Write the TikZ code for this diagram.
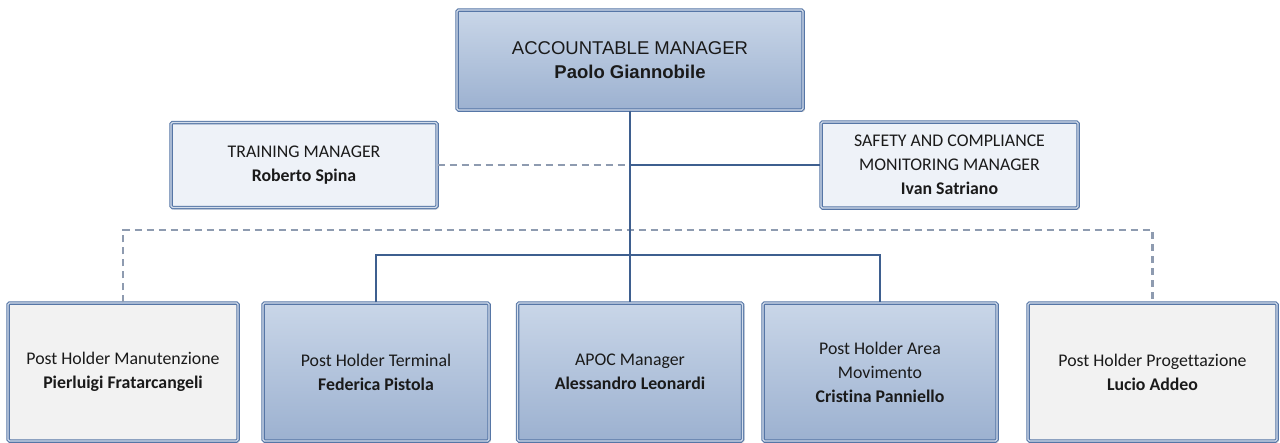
\documentclass[tikz,border=0pt]{standalone}
\usepackage{fontspec}
\setmainfont{Carlito}[Ligatures=NoCommon]
\newfontfamily\arialf{Liberation Sans}
\usetikzlibrary{shadows}
\definecolor{bordc}{HTML}{5676A6}
\definecolor{gapc}{HTML}{D4DEEC}
\definecolor{linec}{HTML}{3E5F8F}
\definecolor{dashc}{HTML}{8E9BB0}
\definecolor{blueT}{HTML}{C9D6E8}
\definecolor{blueB}{HTML}{9CB1D0}
\definecolor{lightbl}{HTML}{EEF2F8}
\definecolor{lightgr}{HTML}{F2F2F2}
\definecolor{txtc}{HTML}{1A1A1A}
\tikzset{
  orgbox/.style={draw=bordc, line width=1.1pt, double=gapc, double distance=1.3pt,
    rounded corners=1.5pt, align=center, inner sep=2pt, text=txtc,
    drop shadow={shadow xshift=1.8pt, shadow yshift=-1.8pt, opacity=0.25, fill=black!60},
    font=\fontsize{17.8}{24}\selectfont},
  bluebox/.style={orgbox, top color=blueT, bottom color=blueB},
  palebox/.style={orgbox, fill=lightbl},
  greybox/.style={orgbox, fill=lightgr},
  solidline/.style={draw=linec, line width=1.5pt},
  dashline/.style={draw=dashc, line width=2.3pt, dash pattern=on 7pt off 5pt}
}
\begin{document}
\begin{tikzpicture}[x=1pt,y=-1pt]
\useasboundingbox (0,0) rectangle (1280,442);
\node[bluebox, minimum width=346pt, minimum height=100pt,
      font=\arialf\fontsize{18.5}{24}\selectfont] (am) at (630,60)
  {ACCOUNTABLE MANAGER\\\textbf{Paolo Giannobile}};
\node[palebox, minimum width=266pt, minimum height=85pt] (tm) at (304,165)
  {TRAINING MANAGER\\\textbf{Roberto Spina}};
\node[palebox, minimum width=257pt, minimum height=86pt] (sm) at (949.5,165)
  {SAFETY AND COMPLIANCE\\MONITORING MANAGER\\\textbf{Ivan Satriano}};
\node[greybox, minimum width=230pt, minimum height=138pt] (b1) at (123,372)
  {Post Holder Manutenzione\\\textbf{Pierluigi Fratarcangeli}};
\node[bluebox, minimum width=226pt, minimum height=138pt] (b2) at (376,372)
  {Post Holder Terminal\\\textbf{Federica Pistola}};
\node[bluebox, minimum width=225pt, minimum height=138pt] (b3) at (630,372)
  {APOC Manager\\\textbf{Alessandro Leonardi}};
\node[bluebox, minimum width=234pt, minimum height=138pt] (b4) at (880,372)
  {Post Holder Area\\Movimento\\\textbf{Cristina Panniello}};
\node[greybox, minimum width=249pt, minimum height=138pt] (b5) at (1152.5,372)
  {Post Holder Progettazione\\\textbf{Lucio Addeo}};
\coordinate (dj) at (630,230);
\coordinate (hj) at (630,255);
% dashed links
\draw[dashline] (b1.north) -- (b1.north |- dj) -- (b5.north |- dj) -- (b5.north);
\draw[dashline] (tm.east) -- (tm.east -| am.south);
% solid links
\draw[solidline] (sm.west) -- (sm.west -| am.south);
\draw[solidline] (am.south) -- (b3.north);
\draw[solidline] (b2.north) -- (b2.north |- hj) -- (b4.north |- hj) -- (b4.north);
\end{tikzpicture}
\end{document}
